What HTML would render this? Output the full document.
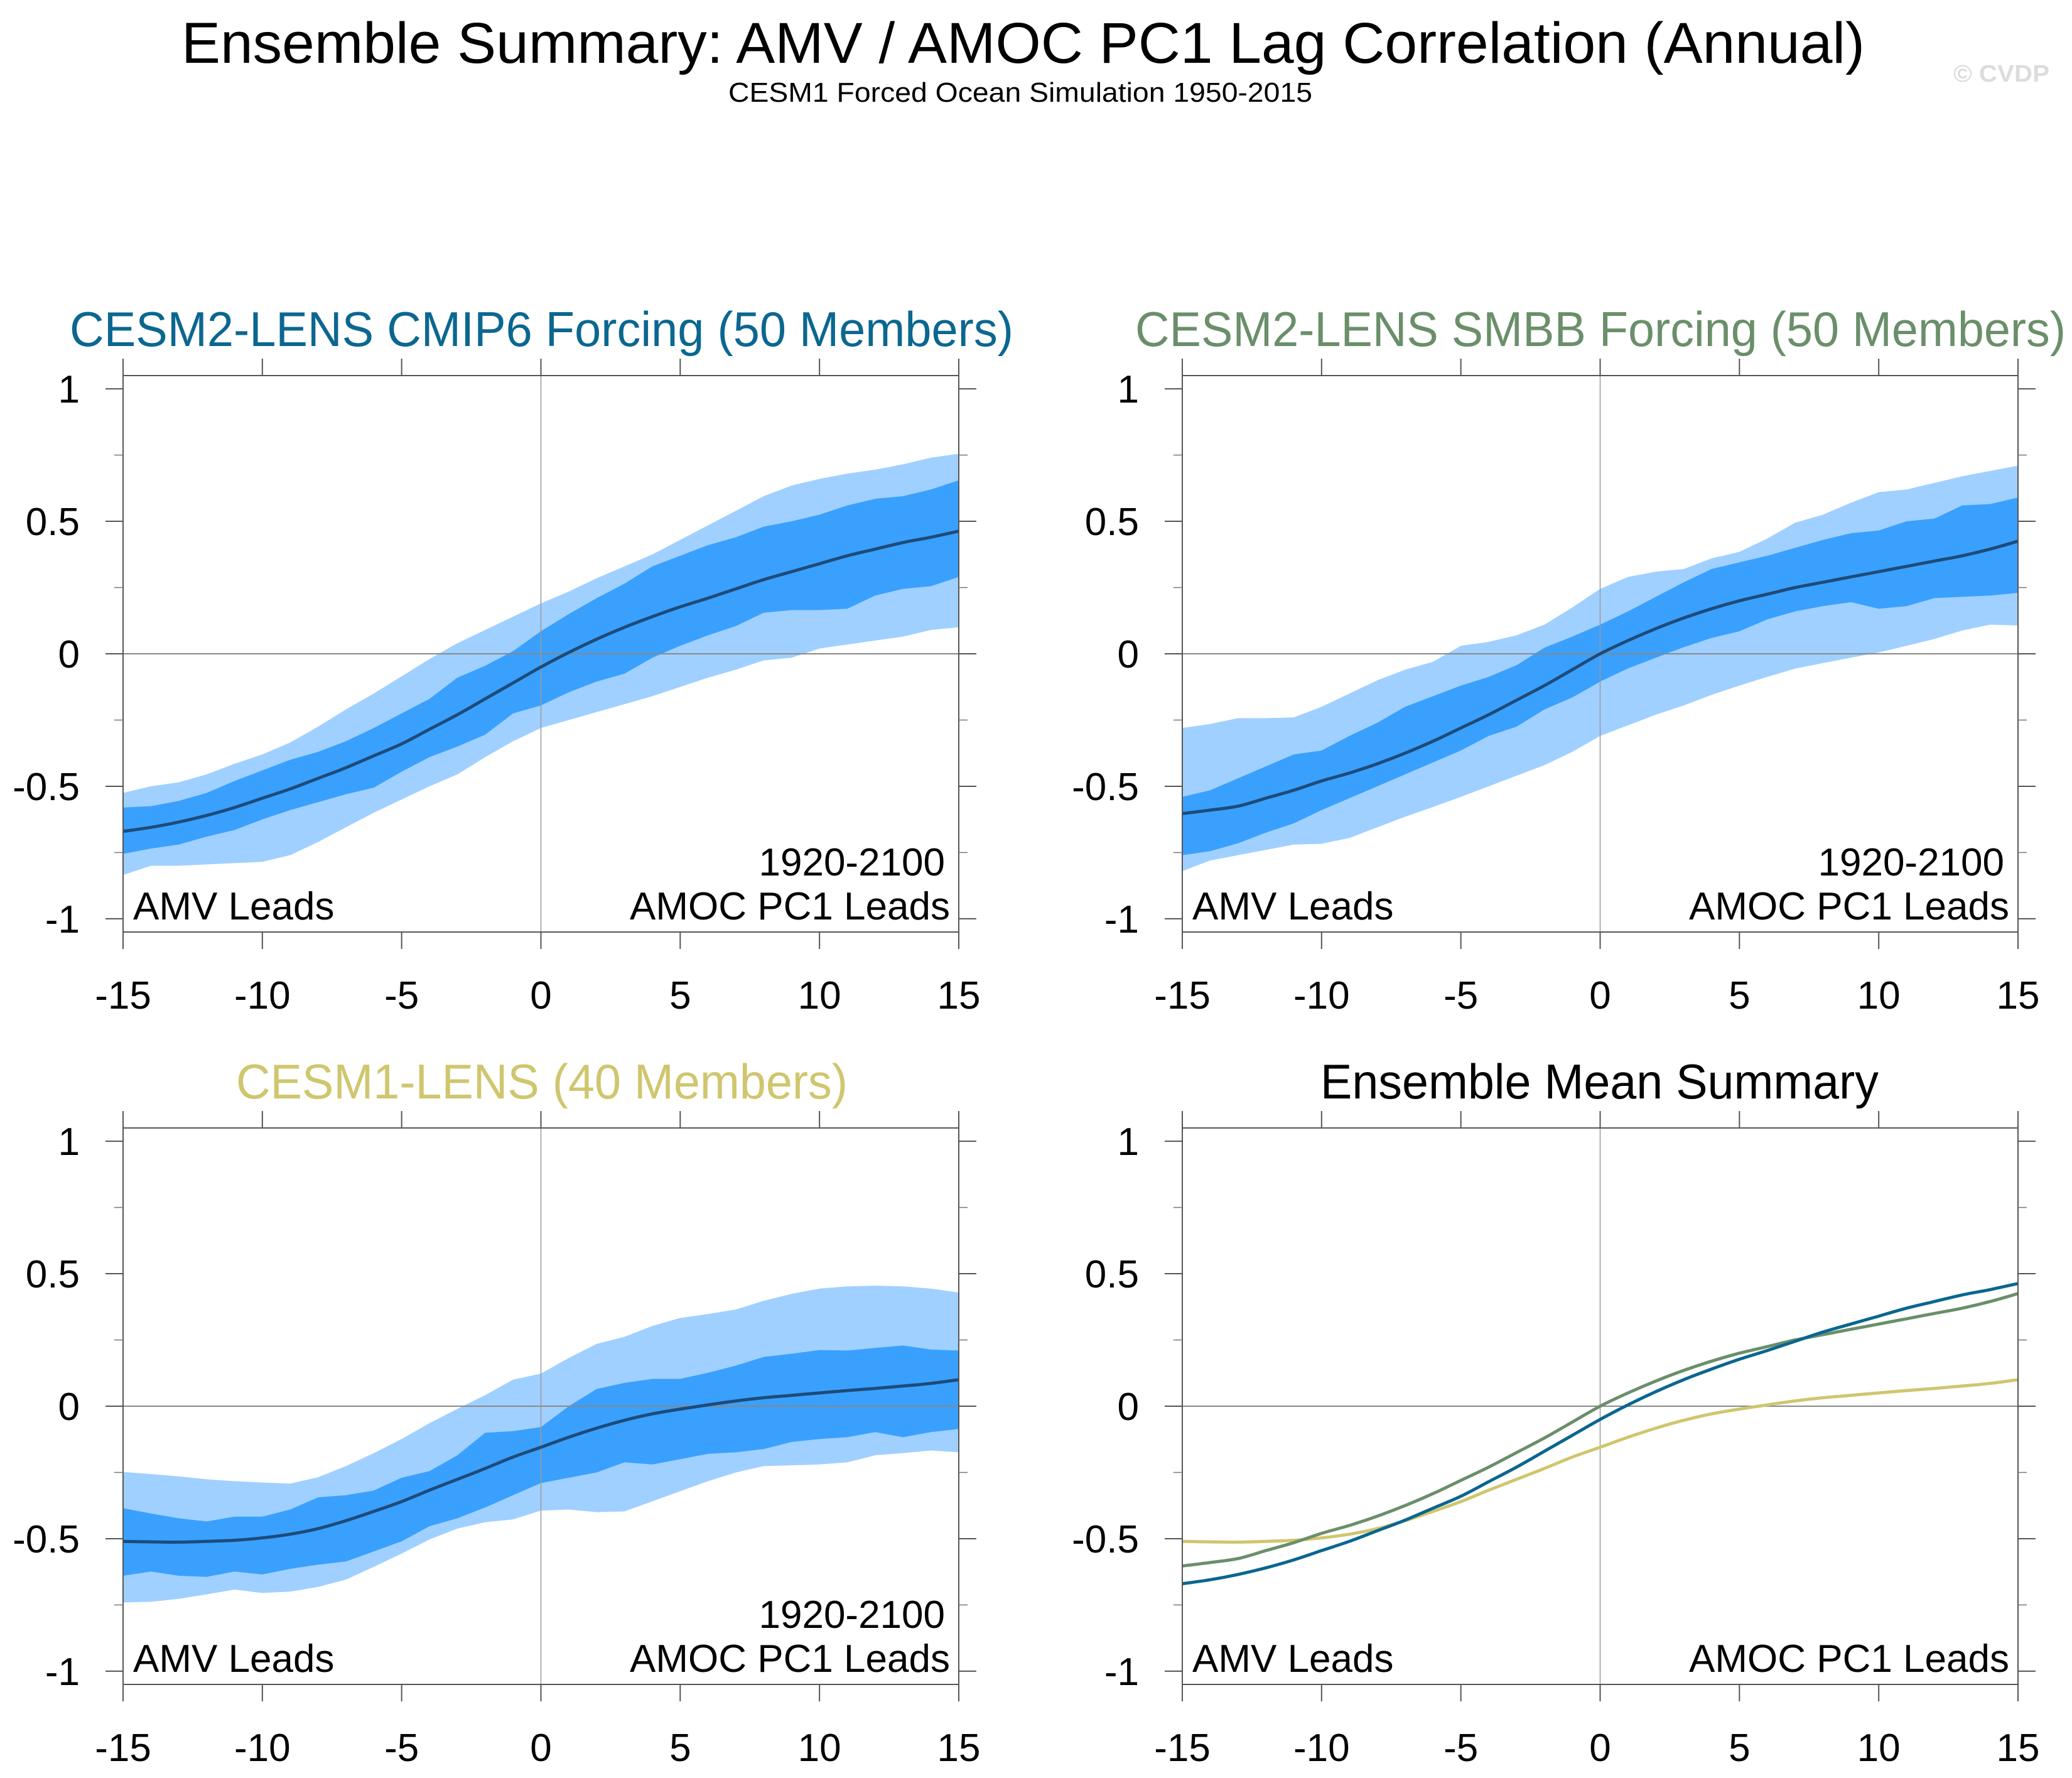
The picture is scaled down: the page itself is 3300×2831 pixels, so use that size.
<!DOCTYPE html>
<html><head><meta charset="utf-8"><style>
html,body{margin:0;padding:0;background:#fff;}
svg{display:block;font-family:"Liberation Sans",sans-serif;}
</style></head><body>
<svg id="chart" xmlns="http://www.w3.org/2000/svg" width="3300" height="2831" viewBox="0 0 3300 2831">
<rect width="3300" height="2831" fill="#fff"/>
<text x="289" y="100" font-size="92" textLength="2681" lengthAdjust="spacingAndGlyphs">Ensemble Summary: AMV / AMOC PC1 Lag Correlation (Annual)</text>
<text x="1160" y="162" font-size="44" textLength="930" lengthAdjust="spacingAndGlyphs">CESM1 Forced Ocean Simulation 1950-2015</text>
<text x="3111" y="130" font-size="38" fill="#dcdcdc" font-weight="bold" textLength="153" lengthAdjust="spacingAndGlyphs">© CVDP</text>
<g id="plots"></g>
</svg>
<script>
const lags = [-15,-14,-13,-12,-11,-10,-9,-8,-7,-6,-5,-4,-3,-2,-1,0,1,2,3,4,5,6,7,8,9,10,11,12,13,14,15];
const xTicks = [-15,-10,-5,0,5,10,15];
const xTickLabels = ["-15","-10","-5","0","5","10","15"];
const yTicks = [-1,-0.5,0,0.5,1];
const yTickLabels = ["-1","-0.5","0","0.5","1"];
const yMinorTicks = [-0.75,-0.25,0.25,0.75];

const cmip6Mean = [-0.67,-0.655,-0.635,-0.61,-0.58,-0.545,-0.51,-0.47,-0.43,-0.385,-0.34,-0.285,-0.23,-0.17,-0.11,-0.05,0.005,0.055,0.1,0.14,0.177,0.21,0.245,0.28,0.31,0.34,0.37,0.395,0.42,0.44,0.463];
const cmip6InnerHi = [-0.58,-0.575,-0.555,-0.525,-0.48,-0.44,-0.4,-0.37,-0.33,-0.28,-0.225,-0.17,-0.09,-0.045,0.01,0.085,0.15,0.21,0.265,0.33,0.37,0.41,0.44,0.48,0.5,0.525,0.56,0.585,0.595,0.62,0.655];
const cmip6InnerLo = [-0.755,-0.735,-0.72,-0.69,-0.665,-0.625,-0.59,-0.56,-0.53,-0.505,-0.445,-0.39,-0.35,-0.305,-0.225,-0.195,-0.145,-0.105,-0.075,-0.015,0.03,0.07,0.105,0.155,0.165,0.165,0.17,0.22,0.245,0.255,0.29];
const cmip6OuterHi = [-0.525,-0.5,-0.485,-0.455,-0.415,-0.38,-0.335,-0.275,-0.21,-0.15,-0.085,-0.02,0.04,0.09,0.14,0.19,0.235,0.285,0.33,0.375,0.43,0.485,0.54,0.595,0.635,0.66,0.68,0.695,0.715,0.74,0.755];
const cmip6OuterLo = [-0.835,-0.8,-0.8,-0.795,-0.79,-0.785,-0.76,-0.71,-0.655,-0.6,-0.55,-0.5,-0.455,-0.39,-0.33,-0.28,-0.25,-0.22,-0.19,-0.16,-0.125,-0.09,-0.06,-0.025,-0.015,0.02,0.035,0.05,0.065,0.09,0.1];

const smbbMean = [-0.603,-0.59,-0.575,-0.545,-0.515,-0.48,-0.45,-0.415,-0.375,-0.33,-0.28,-0.23,-0.175,-0.12,-0.06,0.0,0.05,0.095,0.135,0.17,0.2,0.225,0.25,0.27,0.29,0.31,0.33,0.35,0.37,0.395,0.425];
const smbbInnerHi = [-0.54,-0.515,-0.47,-0.425,-0.38,-0.365,-0.31,-0.26,-0.2,-0.16,-0.12,-0.087,-0.043,0.023,0.065,0.11,0.16,0.215,0.27,0.32,0.345,0.37,0.4,0.43,0.455,0.465,0.5,0.51,0.56,0.565,0.59];
const smbbInnerLo = [-0.76,-0.745,-0.715,-0.675,-0.64,-0.59,-0.545,-0.5,-0.455,-0.41,-0.365,-0.31,-0.275,-0.21,-0.165,-0.105,-0.055,-0.015,0.025,0.06,0.085,0.13,0.16,0.18,0.195,0.17,0.18,0.21,0.215,0.22,0.23];
const smbbOuterHi = [-0.28,-0.265,-0.243,-0.243,-0.24,-0.2,-0.15,-0.1,-0.06,-0.03,0.03,0.045,0.07,0.11,0.175,0.245,0.29,0.31,0.32,0.36,0.385,0.435,0.495,0.525,0.57,0.61,0.62,0.645,0.67,0.69,0.71];
const smbbOuterLo = [-0.82,-0.78,-0.76,-0.74,-0.72,-0.717,-0.695,-0.655,-0.615,-0.578,-0.54,-0.5,-0.46,-0.42,-0.37,-0.31,-0.27,-0.23,-0.195,-0.155,-0.12,-0.087,-0.056,-0.035,-0.015,0.005,0.03,0.056,0.088,0.11,0.107];

const lens1Mean = [-0.51,-0.512,-0.513,-0.51,-0.506,-0.497,-0.483,-0.462,-0.432,-0.397,-0.36,-0.317,-0.276,-0.235,-0.192,-0.155,-0.117,-0.083,-0.053,-0.029,-0.011,0.005,0.02,0.032,0.041,0.05,0.059,0.067,0.076,0.086,0.1];
const lens1InnerHi = [-0.385,-0.405,-0.423,-0.435,-0.417,-0.417,-0.39,-0.344,-0.336,-0.318,-0.27,-0.245,-0.185,-0.1,-0.094,-0.079,0.0,0.065,0.088,0.103,0.103,0.126,0.153,0.186,0.198,0.212,0.21,0.22,0.229,0.214,0.21];
const lens1InnerLo = [-0.64,-0.624,-0.64,-0.644,-0.624,-0.635,-0.614,-0.598,-0.586,-0.548,-0.51,-0.453,-0.423,-0.382,-0.336,-0.29,-0.27,-0.25,-0.212,-0.22,-0.2,-0.18,-0.174,-0.162,-0.135,-0.124,-0.117,-0.098,-0.117,-0.098,-0.086];
const lens1OuterHi = [-0.248,-0.256,-0.265,-0.276,-0.283,-0.288,-0.292,-0.268,-0.226,-0.177,-0.124,-0.064,-0.01,0.042,0.1,0.123,0.182,0.235,0.262,0.303,0.333,0.348,0.365,0.398,0.424,0.444,0.452,0.455,0.452,0.444,0.429];
const lens1OuterLo = [-0.741,-0.738,-0.727,-0.71,-0.692,-0.705,-0.7,-0.682,-0.655,-0.606,-0.556,-0.503,-0.462,-0.438,-0.427,-0.394,-0.39,-0.4,-0.397,-0.359,-0.321,-0.283,-0.25,-0.226,-0.223,-0.22,-0.212,-0.185,-0.177,-0.167,-0.174];

const NS = "http://www.w3.org/2000/svg";
const root = document.getElementById('plots');
function mk(tag, attrs, parent){
  const e = document.createElementNS(NS, tag);
  for (const k in attrs) e.setAttribute(k, attrs[k]);
  (parent||root).appendChild(e);
  return e;
}
function smoothPath(pts){
  let d = 'M' + pts[0][0].toFixed(1) + ' ' + pts[0][1].toFixed(1);
  for (let i = 0; i < pts.length - 1; i++){
    const p0 = pts[Math.max(0, i - 1)], p1 = pts[i], p2 = pts[i + 1], p3 = pts[Math.min(pts.length - 1, i + 2)];
    const c1x = p1[0] + (p2[0] - p0[0]) / 6, c1y = p1[1] + (p2[1] - p0[1]) / 6;
    const c2x = p2[0] - (p3[0] - p1[0]) / 6, c2y = p2[1] - (p3[1] - p1[1]) / 6;
    d += 'C' + c1x.toFixed(1) + ' ' + c1y.toFixed(1) + ' ' + c2x.toFixed(1) + ' ' + c2y.toFixed(1) + ' ' + p2[0].toFixed(1) + ' ' + p2[1].toFixed(1);
  }
  return d;
}
const W = 1331, H = 886, YMIN = -1.05, YMAX = 1.05;

function panel(x0, y0, name, title, titleColor, titleX, titleLen, bands, showYears){
  const g = mk('g', {});
  
  
  const sx = v => x0 + (v + 15) / 30 * W;
  const sy = v => y0 + (YMAX - v) / (YMAX - YMIN) * H;
  const t = mk('text', {x: titleX, y: y0 - 47, 'font-size': 78, fill: titleColor, textLength: titleLen, lengthAdjust: 'spacingAndGlyphs'}, g);
  t.textContent = title;
  
  
  const clip = 'c' + name;
  const cp = mk('clipPath', {id: clip}, g);
  mk('rect', {x: x0, y: y0, width: W, height: H}, cp);
  const pg = mk('g', {'clip-path': 'url(#' + clip + ')'}, g);
  if (bands){
    const area = (hi, lo, col, nm) => {
      let d = '';
      lags.forEach((l, i) => { d += (i ? 'L' : 'M') + sx(l).toFixed(1) + ' ' + sy(hi[i]).toFixed(1); });
      for (let i = lags.length - 1; i >= 0; i--) d += 'L' + sx(lags[i]).toFixed(1) + ' ' + sy(lo[i]).toFixed(1);
      const p = mk('path', {d: d + 'Z', fill: col}, pg);
      
      
    };
    area(bands.oh, bands.ol, '#a0d0ff', 'outer-spread-band');
    area(bands.ih, bands.il, '#3aa0fd', 'inner-spread-band');
  }
  const zl = mk('line', {x1: x0, x2: x0 + W, y1: sy(0), y2: sy(0), stroke: '#888', 'stroke-width': 2}, pg);
  
  
  const vl = mk('line', {x1: sx(0), x2: sx(0), y1: y0, y2: y0 + H, stroke: '#999', 'stroke-width': 1.5}, pg);
  
  
  const lines = bands ? [{v: bands.m, c: '#1d4b7a', n: 'ensemble-mean-line'}] : [
    {v: lens1Mean, c: '#cfc66e', n: 'cesm1-lens-mean-line'},
    {v: smbbMean, c: '#6a8f6a', n: 'smbb-mean-line'},
    {v: cmip6Mean, c: '#0a6690', n: 'cmip6-mean-line'}];
  lines.forEach(L => {
    const pts = lags.map((l, i) => [sx(l), sy(L.v[i])]);
    const p = mk('path', {d: smoothPath(pts), fill: 'none', stroke: L.c, 'stroke-width': 5, 'stroke-linejoin': 'round'}, pg);
    
    
  });
  const box = mk('rect', {x: x0, y: y0, width: W, height: H, fill: 'none', stroke: '#555', 'stroke-width': 2}, g);
  
  
  xTicks.forEach((v, i) => {
    mk('line', {x1: sx(v), x2: sx(v), y1: y0 - 27, y2: y0, stroke: '#555', 'stroke-width': 2}, g);
    mk('line', {x1: sx(v), x2: sx(v), y1: y0 + H, y2: y0 + H + 27, stroke: '#555', 'stroke-width': 2}, g);
    const tl = mk('text', {x: sx(v), y: y0 + H + 122, 'font-size': 62, 'text-anchor': 'middle'}, g);
    tl.textContent = xTickLabels[i];
    
    
  });
  yTicks.forEach((v, i) => {
    mk('line', {x1: x0 - 28, x2: x0, y1: sy(v), y2: sy(v), stroke: '#555', 'stroke-width': 2}, g);
    mk('line', {x1: x0 + W, x2: x0 + W + 28, y1: sy(v), y2: sy(v), stroke: '#555', 'stroke-width': 2}, g);
    const tl = mk('text', {x: x0 - 69, y: sy(v) + 22, 'font-size': 62, 'text-anchor': 'end'}, g);
    tl.textContent = yTickLabels[i];
    
    
  });
  yMinorTicks.forEach(v => {
    mk('line', {x1: x0 - 14, x2: x0, y1: sy(v), y2: sy(v), stroke: '#777', 'stroke-width': 1.5}, g);
    mk('line', {x1: x0 + W, x2: x0 + W + 14, y1: sy(v), y2: sy(v), stroke: '#777', 'stroke-width': 1.5}, g);
  });
  const a1 = mk('text', {x: x0 + 16, y: y0 + H - 20, 'font-size': 62}, g);
  a1.textContent = 'AMV Leads';
  
  
  const a2 = mk('text', {x: x0 + W - 14, y: y0 + H - 20, 'font-size': 62, 'text-anchor': 'end'}, g);
  a2.textContent = 'AMOC PC1 Leads';
  
  
  if (showYears){
    const a3 = mk('text', {x: x0 + W - 22, y: y0 + H - 90, 'font-size': 62, 'text-anchor': 'end'}, g);
    a3.textContent = '1920-2100';
    
    
  }
}
panel(196, 598, 'panel-cesm2-cmip6', 'CESM2-LENS CMIP6 Forcing (50 Members)', '#0b6790', 111, 1503,
  {m: cmip6Mean, ih: cmip6InnerHi, il: cmip6InnerLo, oh: cmip6OuterHi, ol: cmip6OuterLo}, true);
panel(1883, 598, 'panel-cesm2-smbb', 'CESM2-LENS SMBB Forcing (50 Members)', '#6a8f6a', 1808, 1482,
  {m: smbbMean, ih: smbbInnerHi, il: smbbInnerLo, oh: smbbOuterHi, ol: smbbOuterLo}, true);
panel(196, 1796, 'panel-cesm1-lens', 'CESM1-LENS (40 Members)', '#cfc66e', 376, 974,
  {m: lens1Mean, ih: lens1InnerHi, il: lens1InnerLo, oh: lens1OuterHi, ol: lens1OuterLo}, true);
panel(1883, 1796, 'panel-ensemble-mean-summary', 'Ensemble Mean Summary', '#000', 2103, 889, null, false);
</script>
</body></html>
